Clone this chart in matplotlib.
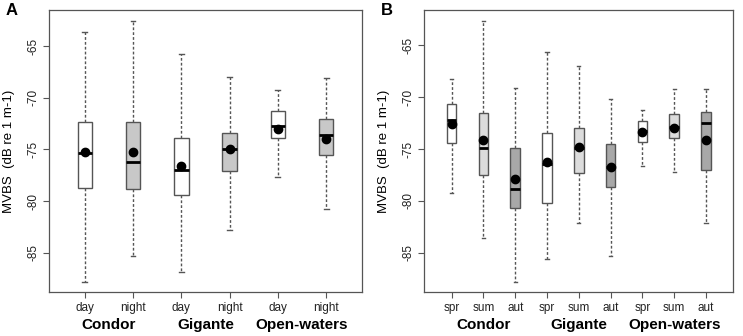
import matplotlib
matplotlib.use("Agg")
import matplotlib.pyplot as plt

# panel A: day / night
a_labels = ["day", "night", "day", "night", "day", "night"]
a_whishi = [-63.6, -62.5, -65.7, -68.0, -69.2, -68.1]
a_q3 = [-72.3, -72.3, -73.9, -73.4, -71.3, -72.0]
a_med = [-75.3, -76.2, -77.0, -75.0, -72.7, -73.6]
a_mean = [-75.2, -75.2, -76.6, -75.0, -73.0, -74.0]
a_q1 = [-78.7, -78.8, -79.4, -77.1, -73.9, -75.5]
a_whislo = [-87.8, -85.3, -86.9, -82.8, -77.7, -80.8]
a_colors = ["white", "#c8c8c8"] * 3

# panel B: seasons
b_labels = ["spr", "sum", "aut"] * 3
b_whishi = [-68.2, -62.6, -69.1, -65.6, -67.0, -70.2, -71.2, -69.2, -69.2]
b_q3 = [-70.7, -71.5, -74.9, -73.5, -73.0, -74.5, -72.3, -71.6, -71.4]
b_med = [-72.2, -74.9, -78.9, -76.5, -74.9, -76.7, -73.3, -72.9, -72.5]
b_mean = [-72.6, -74.1, -77.9, -76.3, -74.8, -76.7, -73.4, -73.0, -74.1]
b_q1 = [-74.4, -77.5, -80.7, -80.2, -77.3, -78.7, -74.3, -73.9, -77.0]
b_whislo = [-79.3, -83.6, -87.8, -85.6, -82.1, -85.3, -76.6, -77.2, -82.1]
b_colors = ["white", "#dcdcdc", "#a8a8a8"] * 3

sites = ["Condor", "Gigante", "Open-waters"]
yticks = [-65, -70, -75, -80, -85]

edge = "#555555"
plt.rcParams["font.family"] = "Liberation Sans"


def panel(ax, labels, whishi, q3, med, mean, q1, whislo, colors, group_size, letter):
    n = len(labels)
    stats = []
    for i in range(n):
        stats.append({"whishi": whishi[i], "q3": q3[i], "med": med[i], "mean": mean[i],
                      "q1": q1[i], "whislo": whislo[i], "fliers": []})
    pos = list(range(1, n + 1))
    bp = ax.bxp(stats, positions=pos, widths=0.3, capwidths=0.1, showmeans=True,
                patch_artist=True,
                boxprops=dict(edgecolor=edge, linewidth=1.0),
                whiskerprops=dict(color=edge, linestyle=(0, (2, 1.5)), linewidth=1.0),
                capprops=dict(color=edge, linewidth=1.0),
                medianprops=dict(color="black", linewidth=2.0),
                meanprops=dict(marker="o", markerfacecolor="black", markeredgecolor="black",
                               markersize=6))
    for box, c in zip(bp["boxes"], colors):
        box.set_facecolor(c)
    lo = min(whislo)
    hi = max(whishi)
    pad = (hi - lo) * 0.04
    ax.set_ylim(lo - pad, hi + pad)
    ax.set_xlim(0.5 - n * 0.04, n + 0.5 + n * 0.04)
    ax.set_yticks(yticks)
    ax.set_yticklabels([str(t) for t in yticks], rotation=90, va="center")
    ax.set_xticks(pos)
    ax.set_xticklabels(labels)
    ax.tick_params(axis="both", labelsize=8.5, color=edge, length=4, width=0.8, colors="#222222")
    ax.tick_params(axis="y", pad=3)
    ax.tick_params(axis="x", pad=3)
    for sp in ax.spines.values():
        sp.set_color(edge)
        sp.set_linewidth(0.9)
    ax.set_ylabel("MVBS  (dB re 1 m-1)", fontsize=9.5, labelpad=9)
    for g, name in enumerate(sites):
        center = g * group_size + (group_size + 1) / 2
        ax.text(center, -0.117, name, transform=ax.get_xaxis_transform(),
                ha="center", va="center", fontsize=11, fontweight="bold")
    ax.text(-0.12, 1.0, letter, transform=ax.transAxes, ha="center", va="center",
            fontsize=12, fontweight="bold")


fig = plt.figure(figsize=(7.43, 3.36), dpi=100)
ax1 = fig.add_axes([0.066, 0.131, 0.421, 0.839])
ax2 = fig.add_axes([0.571, 0.131, 0.416, 0.839])

panel(ax1, a_labels, a_whishi, a_q3, a_med, a_mean, a_q1, a_whislo, a_colors, 2, "A")
panel(ax2, b_labels, b_whishi, b_q3, b_med, b_mean, b_q1, b_whislo, b_colors, 3, "B")

fig.savefig("out.png", dpi=100)
